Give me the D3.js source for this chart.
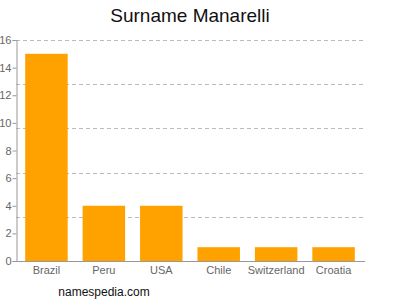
<!DOCTYPE html>
<html>
  <head>
    <style>
      body, html { margin: 0; padding: 0; background: #fff; overflow: hidden; }
      svg { display: block; font-family: "Liberation Sans", Arial, sans-serif; }
    </style>
  </head>
  <body>
    <script src="https://cdn.jsdelivr.net/npm/d3@7"></script>
    <script>
      const countries = ["Brazil", "Peru", "USA", "Chile", "Switzerland", "Croatia"];
      const counts = [15, 4, 4, 1, 1, 1];
      const yTicks = [0, 2, 4, 6, 8, 10, 12, 14, 16];
      const gridValues = [3.2, 6.4, 9.6, 12.8, 16];

      const width = 400, height = 300;
      const plotLeft = 16, plotRight = 364, plotTop = 40, plotBottom = 261;

      const svg = d3.select("body").append("svg")
        .attr("width", width)
        .attr("height", height);

      const x = d3.scaleBand()
        .domain(countries)
        .range([plotLeft, plotRight])
        .paddingInner(0.26)
        .paddingOuter(0.16);

      const y = d3.scaleLinear().domain([0, 16]).range([plotBottom, plotTop]);

      // dashed grid
      svg.selectAll("line.grid")
        .data(gridValues)
        .enter()
        .append("line")
        .attr("class", "grid")
        .attr("x1", plotLeft)
        .attr("x2", plotRight + 1)
        .attr("y1", (d) => Math.round(y(d)) + 0.5)
        .attr("y2", (d) => Math.round(y(d)) + 0.5)
        .attr("stroke", "#bbb")
        .attr("stroke-dasharray", "4,3");

      // bars
      svg.selectAll("rect.bar")
        .data(countries)
        .enter()
        .append("rect")
        .attr("class", "bar")
        .attr("x", (d) => x(d))
        .attr("width", x.bandwidth())
        .attr("y", (d, i) => y(counts[i]))
        .attr("height", (d, i) => plotBottom - y(counts[i]))
        .attr("fill", "#ffa200");

      // y axis (labels hug the left edge, as in the original)
      const yAxis = svg.append("g")
        .attr("transform", `translate(${plotLeft + 0.5},0)`)
        .call(d3.axisLeft(y).tickValues(yTicks).tickSize(4).tickPadding(1));
      yAxis.select(".domain").attr("stroke", "#999");
      yAxis.selectAll(".tick line").attr("stroke", "#999");
      yAxis.selectAll(".tick text")
        .attr("fill", "#666")
        .style("font-size", "11px")
        .style("font-family", "Liberation Sans, Arial, sans-serif");

      // x axis
      const xAxis = svg.append("g")
        .attr("transform", `translate(0,${plotBottom + 0.5})`)
        .call(d3.axisBottom(x).tickSize(0).tickPadding(5));
      xAxis.select(".domain").attr("stroke", "#999").attr("d", `M${plotLeft},0H${plotRight + 1}`);
      xAxis.selectAll(".tick text")
        .attr("fill", "#666")
        .style("font-size", "11px")
        .style("font-family", "Liberation Sans, Arial, sans-serif");

      // title
      svg.append("text")
        .attr("x", 190)
        .attr("y", 22)
        .attr("text-anchor", "middle")
        .style("font-size", "19px")
        .attr("fill", "#111")
        .text("Surname Manarelli");

      svg.append("text")
        .attr("x", 104)
        .attr("y", 296)
        .attr("text-anchor", "middle")
        .style("font-size", "12px")
        .attr("fill", "#111")
        .text("namespedia.com");
    </script>
  </body>
</html>
